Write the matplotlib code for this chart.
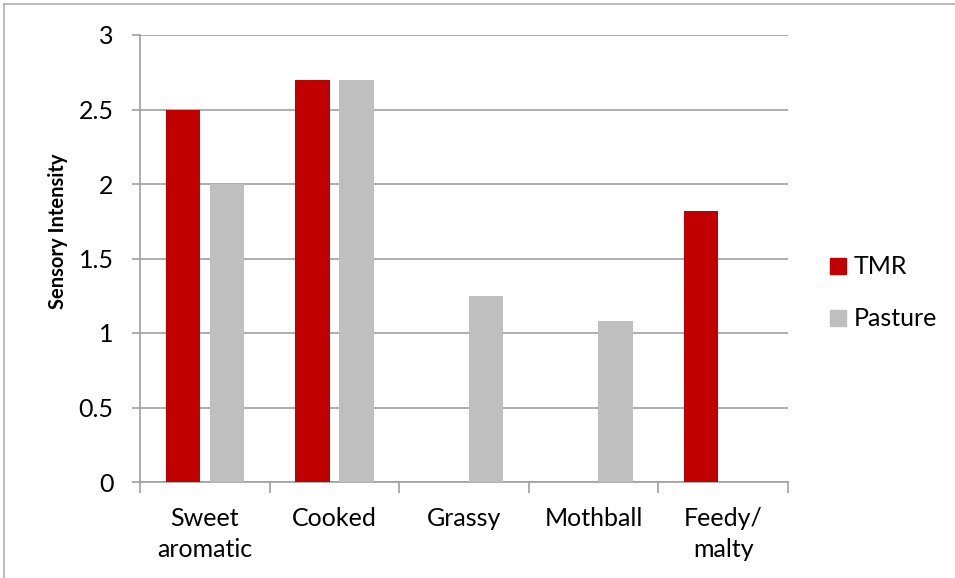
import matplotlib
matplotlib.use("Agg")
import matplotlib.pyplot as plt
import numpy as np
from matplotlib.lines import Line2D

# sensory attribute scores for milk from the two feeding systems
categories = ["Sweet\naromatic", "Cooked", "Grassy", "Mothball", "Feedy/\nmalty"]
tmr = [2.5, 2.7, 0, 0, 1.82]
pasture = [2.0, 2.7, 1.25, 1.08, 0]
series_names = ["TMR", "Pasture"]
colors = ["#c00000", "#bfbfbf"]

plt.rcParams["font.family"] = ["Lato", "DejaVu Sans"]
plt.rcParams["font.size"] = 18

fig = plt.figure(figsize=(9.55, 5.78), dpi=100)
ax = fig.add_axes([140 / 955, 1 - 482 / 578, 648 / 955, 447 / 578])

x = np.arange(len(categories))
w = 0.265
ax.bar(x - 0.17, tmr, w, color=colors[0], zorder=3)
ax.bar(x + 0.17, pasture, w, color=colors[1], zorder=3)

ax.set_xlim(-0.5, len(categories) - 0.5)
ax.set_ylim(0, 3)
ax.set_yticks(np.arange(0, 3.01, 0.5))
ax.set_yticklabels(["0", "0.5", "1", "1.5", "2", "2.5", "3"])
ax.yaxis.grid(True, color="#a0a0a0", linewidth=1.2, zorder=0)

# category labels sit between the boundary tick marks
ax.set_xticks(x)
ax.set_xticklabels(categories, linespacing=1.4)
ax.tick_params(axis="x", length=0, pad=18)
ax.set_xticks(np.arange(-0.5, len(categories)), minor=True)
ax.tick_params(axis="x", which="minor", length=8, color="#a0a0a0", width=1.2)
ax.tick_params(axis="y", length=6, color="#a0a0a0", width=1.2, pad=13)

for side in ["top", "right"]:
    ax.spines[side].set_visible(False)
for side in ["left", "bottom"]:
    ax.spines[side].set_color("#a0a0a0")
    ax.spines[side].set_linewidth(1.2)

ax.set_ylabel("Sensory Intensity", fontweight="bold", fontsize=14.5)
ax.yaxis.set_label_coords(-0.111, 0.56)

handles = [Line2D([], [], marker="s", linestyle="none", markersize=11,
                  markerfacecolor=c, markeredgecolor=c) for c in colors]
fig.legend(handles, series_names, loc="center left", bbox_to_anchor=(829 / 955, 1 - 293 / 578),
           frameon=False, borderpad=0, borderaxespad=0, handlelength=0.7,
           handletextpad=0.3, labelspacing=1.16, fontsize=18)

# light frame on the top and left edges
fig.add_artist(Line2D([4 / 955, 1], [1 - 4 / 578] * 2, color="#b0b0b0", linewidth=1.2))
fig.add_artist(Line2D([4 / 955] * 2, [0, 1 - 4 / 578], color="#b0b0b0", linewidth=1.2))

fig.savefig("out.png", dpi=100)
